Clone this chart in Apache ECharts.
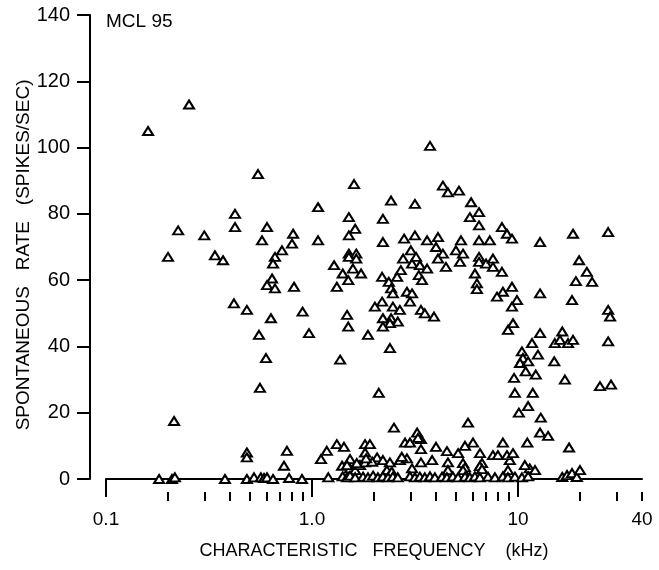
<!DOCTYPE html>
<html>
<head>
<meta charset="utf-8">
<script src="https://cdn.jsdelivr.net/npm/echarts@6/dist/echarts.min.js"></script>
<style>
html,body{margin:0;padding:0;background:#fff;}
#chart{width:659px;height:570px;}
</style>
</head>
<body>
<div id="chart"></div>
<script>
// ---- Data: [characteristic frequency (kHz), spontaneous rate (spikes/sec)] ----
const lowCFActive = [
  [0.16,105],[0.253,113],[0.2,67],[0.224,75],[0.30,73.5],[0.338,67.5],[0.37,66],
  [0.423,80],[0.423,76],[0.547,92],[0.605,76],[0.572,72],[0.715,69],[0.661,67],
  [0.647,65],[0.81,74],[0.80,71],[1.07,82],[1.07,72],[0.64,60.5],[0.605,58.5],
  [0.661,57.5],[0.818,58],[0.418,53],[0.483,51],[0.90,50.5],[0.632,48.5],[0.967,44],
  [0.553,43.5],[0.598,36.5],[0.559,27.5],[0.214,17.5]
];
const lowCFQuiet = [
  [0.181,0],[0.209,0],[0.216,0.5],[0.378,0],[0.483,8],[0.483,6.5],[0.483,0],[0.523,0.5],
  [0.565,0.5],[0.585,0.3],[0.605,0.5],[0.647,0],[0.756,8.5],[0.731,4],[0.774,0.3],
  [0.894,0],[1.106,6],[1.18,8.5],[1.2,0.5]
];
const midCFActive = [
  [1.28,64.5],[1.41,62],[1.32,58],[1.50,60],[1.60,89],[1.51,79],[1.62,75.5],[1.51,73.5],
  [1.51,68],[1.64,68],[1.51,67],[1.64,66.5],[1.58,63.5],[1.73,62],[2.21,78.5],[2.42,84],
  [2.21,71.5],[2.80,72.5],[3.16,73.5],[3.16,83],[3.74,100.5],[4.32,88.5],[4.57,86.5],
  [5.17,87],[5.92,83.5],[6.47,80.5],[5.84,79],[6.47,76.5],[3.62,72],[4.09,73],[4.00,70],
  [4.32,68],[5.29,72],[5.00,69],[5.41,68],[5.23,65.5],[6.47,72],[7.3,72],[6.47,67],
  [6.47,65.5],[7.0,65],[4.09,66.5],[4.47,64],[3.02,69],[3.20,67],[2.77,66.5],[3.06,65],
  [3.34,64.5],[3.62,63.5],[3.30,61.5],[3.42,60],[2.70,63],[2.59,61],[2.19,61],[2.36,59.5],
  [2.42,57.5],[2.47,56],[2.89,56.5],[3.06,56],[2.99,53.5],[2.19,53.5],[2.02,52],[2.47,52],
  [1.48,49.5],[1.50,46],[1.87,43.5],[2.39,39.5],[1.37,36],[2.11,26],[2.42,48.5],[2.61,47.5],
  [2.21,48.5],[2.39,47],[2.21,46],[2.67,51],[3.38,51],[3.53,50],[3.91,49],[6.18,62],
  [6.32,59],[6.32,57.3]
];
const highCFActive = [
  [8.36,76],[8.84,74],[9.35,72.5],[12.8,71.5],[18.5,74],[27.4,74.5],[7.56,66.5],[7.56,64],
  [8.36,62.5],[19.8,66],[21.6,62.5],[19.1,59.7],[22.9,59.5],[9.35,58],[8.45,56.5],[7.91,55],
  [9.89,54],[9.35,52],[12.8,56],[18.3,54],[27.4,51],[28.0,49],[9.46,47],[8.94,45],[12.8,44],
  [16.4,44.5],[15.1,41],[16.0,42],[17.5,41],[18.5,42],[11.7,41],[12.5,37.5],[10.45,38.5],
  [10.57,36.5],[10.23,35],[11.2,35.5],[10.9,32.5],[12.2,31.5],[9.57,30.5],[15.0,35.5],
  [16.9,30],[27.4,41.5],[25.0,28],[28.3,28.5],[9.66,26],[11.8,26],[11.2,22],[10.1,20],
  [12.9,18.5],[5.72,17],[12.8,14],[14.0,13],[17.7,9.5],[11.1,11],[8.45,11]
];
const midCFQuiet = [
  [2.50,15.5],[3.24,14],[3.38,12],[2.83,11],[2.99,11],[3.38,9],[1.32,10.5],[1.43,9.7],
  [1.81,10.5],[1.91,10.5],[1.81,8],[1.53,6],[1.40,4],[2.07,6.5],[2.21,5.7],[2.39,5],
  [2.67,5.7],[2.89,6.2],[3.06,3.2],[3.38,5],[1.53,3.2],[1.62,2.7],[1.71,4.2],[1.81,5],
  [1.48,4.2],[1.65,4.8],[1.96,5.2],[2.73,6.7],[3.83,5.7],[4.57,5],[5.41,4.8],[6.69,4.8],
  [9.13,5.7],[11.4,3.2],[10.8,4.2],[12.1,2.7],[4.52,8.4],[4.0,9.7],[5.12,7.8],[6.54,7.8],
  [7.56,7.2],[7.99,7.2],[8.84,7.2],[9.46,7.8],[1.83,6.2],[6.05,11],[5.53,10],[3.27,12.4],
  [5.53,3.5],[6.53,3.9],[8.94,2.7],[16.4,0.6],[17.3,1.2],[18.3,1.8],[19.3,0.6],[20.0,2.7],
  [2.31,2.7],[2.44,2.2],[4.57,2.7],[5.41,2.7],[6.69,3]
];
const bottomRow = [
  [1.41,0.8],[1.48,0.5],[1.53,1],[1.62,0.5],[1.77,0.7],[1.87,0.5],[1.98,1],[2.09,0.5],
  [2.21,0.8],[2.34,0.5],[2.47,0.7],[2.61,0.5],[2.99,0.8],[3.16,0.5],[3.34,0.7],[3.53,0.5],
  [3.74,0.8],[3.95,0.5],[4.28,0.7],[4.52,0.5],[4.83,0.8],[5.12,0.5],[5.53,0.7],[5.84,0.5],
  [6.18,0.8],[6.53,0.5],[7.15,0.7],[7.73,0.5],[8.45,0.8],[8.94,0.5],[9.66,0.7],[10.45,0.5],
  [11.2,0.8]
];

// ---- Axis ticks / labels ----
const xMajorTicks = [0.1, 1, 10];
const xLabelValues = [0.1, 1, 10, 40];
const xLabelTexts = ['0.1', '1.0', '10', '40'];
const xMinorTicks = [0.2,0.3,0.4,0.5,0.6,0.7,0.8,0.9,2,3,4,5,6,7,8,9,20,30,40];
const yMin = 0, yMax = 140, yStep = 20;

const titleText = 'MCL 95';
const xName = 'CHARACTERISTIC   FREQUENCY    (kHz)';
const yName = 'SPONTANEOUS   RATE   (SPIKES/SEC)   ';

const FONT = '"Liberation Sans", Arial, sans-serif';
const allPoints = [].concat(lowCFActive, lowCFQuiet, midCFActive, highCFActive, midCFQuiet, bottomRow);

const chart = echarts.init(document.getElementById('chart'), null, {renderer: 'canvas'});
chart.setOption({
  animation: false,
  backgroundColor: '#fff',
  title: {
    text: titleText, left: 106, top: 12, padding: 0,
    textStyle: {fontSize: 19, fontWeight: 'normal', fontFamily: FONT, color: '#000'}
  },
  grid: {left: 106, right: 17, top: 15, bottom: 91, containLabel: false, outerBoundsMode: 'none'},
  xAxis: [{
    type: 'log', logBase: 10, min: 0.1, max: 40, position: 'bottom', offset: 13,
    axisLine: {show: true, lineStyle: {color: '#000', width: 2}},
    axisTick: {show: true, inside: false, length: 18, customValues: xMajorTicks,
      lineStyle: {color: '#000', width: 2}},
    axisLabel: {show: true, customValues: xLabelValues, margin: 18, color: '#000',
      fontSize: 19, fontFamily: FONT,
      formatter: function (v) {
        for (let i = 0; i < xLabelValues.length; i++) {
          if (Math.abs(Math.log10(v) - Math.log10(xLabelValues[i])) < 1e-6) return xLabelTexts[i];
        }
        return '';
      }},
    splitLine: {show: false}, minorTick: {show: false},
    name: xName, nameLocation: 'middle', nameGap: 50, nameMoveOverlap: false,
    nameTextStyle: {fontSize: 18, fontFamily: FONT, color: '#000'}
  }, {
    type: 'log', logBase: 10, min: 0.1, max: 40, position: 'bottom', offset: 13,
    axisLine: {show: false},
    axisTick: {show: true, inside: false, length: 9, customValues: xMinorTicks,
      lineStyle: {color: '#000', width: 2}},
    axisLabel: {show: false}, splitLine: {show: false}
  }],
  yAxis: {
    type: 'value', min: yMin, max: yMax, interval: yStep, position: 'left', offset: 16,
    axisLine: {show: true, lineStyle: {color: '#000', width: 2}},
    axisTick: {show: true, inside: false, length: 13, lineStyle: {color: '#000', width: 2}},
    axisLabel: {color: '#000', fontSize: 20, fontFamily: FONT, margin: 20},
    splitLine: {show: false},
    name: yName, nameLocation: 'middle', nameGap: 57, nameRotate: 90, nameMoveOverlap: false,
    nameTextStyle: {fontSize: 19, fontFamily: FONT, color: '#000'}
  },
  series: [{
    type: 'scatter', xAxisIndex: 0, yAxisIndex: 0,
    data: allPoints,
    symbol: 'triangle', symbolSize: [10, 8],
    itemStyle: {color: '#fff', borderColor: '#000', borderWidth: 2, opacity: 1},
    emphasis: {disabled: true},
    clip: false
  }]
});
</script>
</body>
</html>
